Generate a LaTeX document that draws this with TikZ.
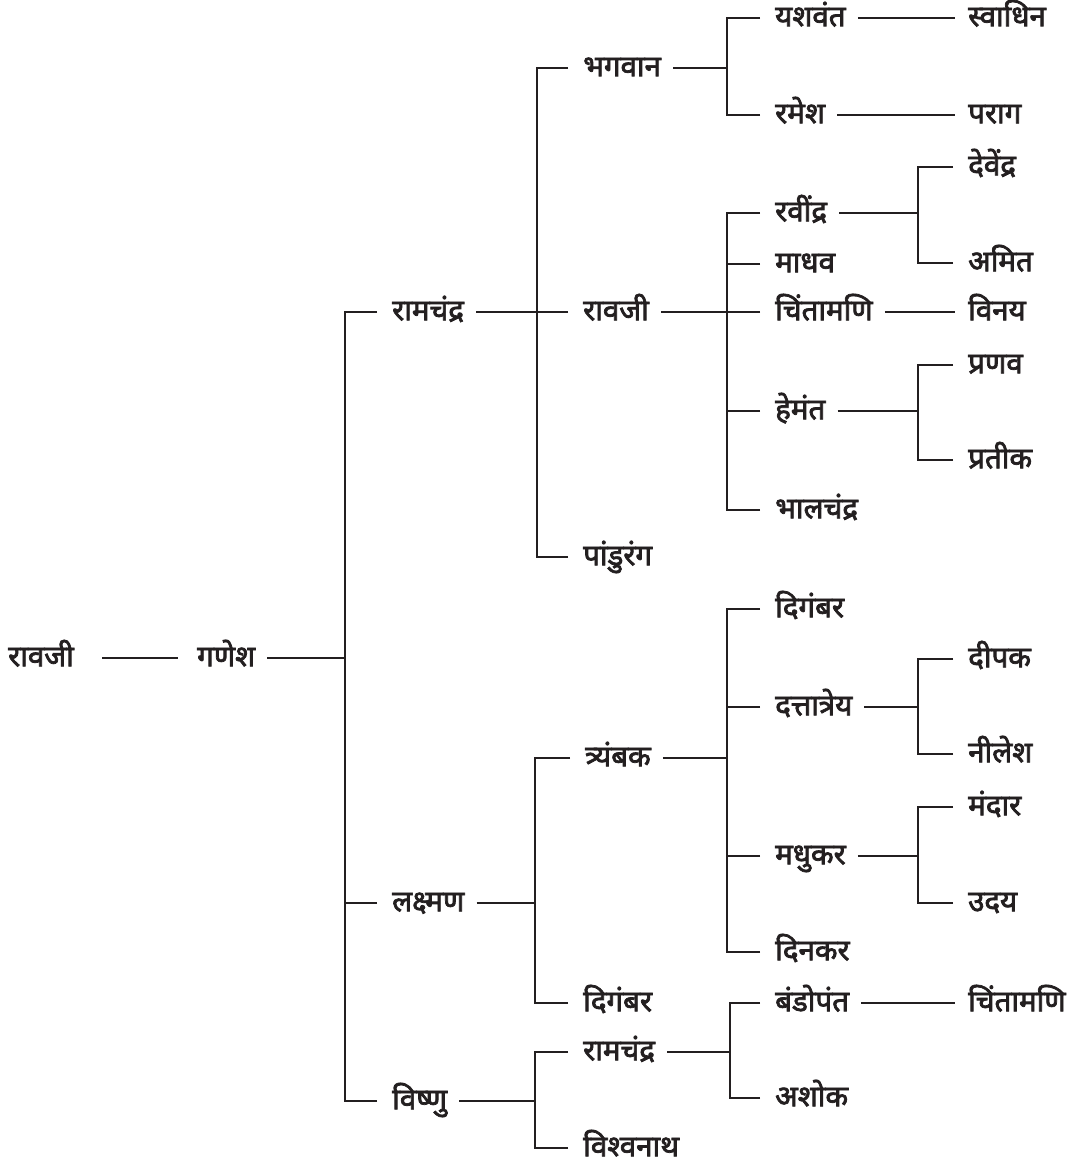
\documentclass[tikz,border=0pt]{standalone}
\usepackage{fontspec}
\newfontfamily\devfont[Script=Devanagari, FakeBold=2.5]{Noto Sans}
\definecolor{ink}{HTML}{231F20}
\tikzset{
  lbl/.style={anchor=west, inner xsep=0pt, inner ysep=0pt, text height=23pt, text depth=6.5pt,
    font=\devfont\fontsize{29.5}{33}\selectfont, text=ink},
  ln/.style={draw=ink, line width=2.8pt, line cap=butt, line join=miter}
}
\newcommand\nd[4]{\node[lbl] (#1) at (#2,-#3) {#4};}
\newcommand\kin[3]{%
  \draw[ln] ([xshift=12pt]#1.east) -- (#2,0 |- #1.east);
  \foreach \k in {#3} {\draw[ln] ([xshift=-15pt]\k.west) -| (#2,0 |- #1.east);}
}
\newcommand\one[2]{\draw[ln] ([xshift=12pt]#1.east) -- ([xshift=-13pt]#2.west);}
\begin{document}
\begin{tikzpicture}[x=1pt,y=1pt]
\useasboundingbox (0,0) rectangle (1070,-1164);
\nd{r0}{8}{658}{रावजी}
\nd{g}{197}{658}{गणेश}
\nd{a1}{392}{312}{रामचंद्र}
\nd{a2}{392}{903}{लक्ष्मण}
\nd{a3}{392}{1101}{विष्णु}
\nd{b1}{583}{68}{भगवान}
\nd{b2}{583}{312}{रावजी}
\nd{b3}{583}{557}{पांडुरंग}
\nd{c1}{775}{18}{यशवंत}
\nd{c2}{775}{115}{रमेश}
\nd{d1}{968}{18}{स्वाधिन}
\nd{d2}{968}{115}{पराग}
\nd{c3}{775}{213}{रवींद्र}
\nd{c4}{775}{264}{माधव}
\nd{c5}{775}{312}{चिंतामणि}
\nd{c6}{775}{411}{हेमंत}
\nd{c7}{775}{510}{भालचंद्र}
\nd{d3}{968}{167}{देवेंद्र}
\nd{d4}{968}{263}{अमित}
\nd{d5}{968}{312}{विनय}
\nd{d6}{968}{365}{प्रणव}
\nd{d7}{968}{460}{प्रतीक}
\nd{b4}{585}{758}{त्र्यंबक}
\nd{b5}{583}{1003}{दिगंबर}
\nd{c8}{775}{609}{दिगंबर}
\nd{c9}{775}{707}{दत्तात्रेय}
\nd{c10}{775}{856}{मधुकर}
\nd{c11}{775}{952}{दिनकर}
\nd{d8}{968}{659}{दीपक}
\nd{d9}{968}{754}{नीलेश}
\nd{d10}{968}{807}{मंदार}
\nd{d11}{968}{903}{उदय}
\nd{b6}{583}{1052}{रामचंद्र}
\nd{b7}{583}{1148}{विश्वनाथ}
\nd{c12}{775}{1003}{बंडोपंत}
\nd{c13}{775}{1098}{अशोक}
\nd{d12}{968}{1003}{चिंतामणि}
% connectors
\draw[ln] ([xshift=28pt]r0.east) -- ([xshift=-19pt]g.west);
\kin{g}{345}{a1,a2,a3}
\kin{a1}{537}{b1,b2,b3}
\kin{b1}{727}{c1,c2}
\one{c1}{d1}
\one{c2}{d2}
\kin{b2}{727}{c3,c4,c5,c6,c7}
\kin{c3}{918}{d3,d4}
\one{c5}{d5}
\kin{c6}{918}{d6,d7}
\kin{a2}{535}{b4,b5}
\kin{b4}{727}{c8,c9,c10,c11}
\kin{c9}{918}{d8,d9}
\kin{c10}{918}{d10,d11}
\kin{a3}{535}{b6,b7}
\kin{b6}{730}{c12,c13}
\one{c12}{d12}
\end{tikzpicture}
\end{document}
